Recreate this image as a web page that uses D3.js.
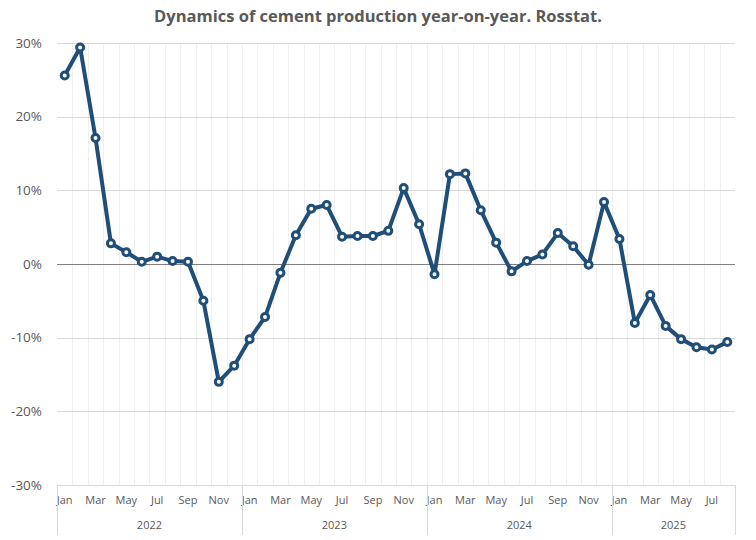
<!DOCTYPE html>
<html lang="en">
  <head>
    <meta charset="UTF-8" />
    <title>Cement production</title>
    <style>
      body {
        margin: 0;
        background: #fff;
      }
      #viz text {
        font-family: "Open Sans", sans-serif;
        fill: #595959;
      }
    </style>
  </head>
  <body>
    <div id="viz"></div>
    <script src="https://cdnjs.cloudflare.com/ajax/libs/d3/7.8.5/d3.min.js"></script>
    <script>
      const years = ["2022", "2023", "2024", "2025"];
      const monthNames = ["Jan", "Feb", "Mar", "Apr", "May", "Jun", "Jul", "Aug", "Sep", "Oct", "Nov", "Dec"];
      const values2022 = [25.6, 29.4, 17.1, 2.8, 1.6, 0.3, 1.0, 0.4, 0.3, -5.0, -16.0, -13.8];
      const values2023 = [-10.2, -7.2, -1.2, 3.9, 7.5, 8.0, 3.7, 3.8, 3.8, 4.5, 10.3, 5.4];
      const values2024 = [-1.4, 12.2, 12.3, 7.3, 2.9, -1.0, 0.4, 1.3, 4.2, 2.4, -0.1, 8.4];
      const values2025 = [3.4, -8.0, -4.2, -8.4, -10.2, -11.3, -11.6, -10.6];
      const yTicks = [-30, -20, -10, 0, 10, 20, 30];

      const series = [values2022, values2023, values2024, values2025];
      let data = [];
      series.forEach((vals, i) => {
        vals.forEach((v, m) => {
          data.push({ key: years[i] + "-" + m, year: years[i], month: monthNames[m], m: m, value: v });
        });
      });

      let width = 756,
          height = 540,
          margin = { top: 43, right: 21, bottom: 55, left: 57 },
          widthr = width - margin.left - margin.right,
          heightr = height - margin.top - margin.bottom;

      let svg = d3.select("#viz")
        .append("svg")
        .attr("width", width)
        .attr("height", height);

      svg.append("text")
        .attr("x", width / 2)
        .attr("y", 22)
        .attr("text-anchor", "middle")
        .style("font-size", "16.5px")
        .style("font-weight", 700)
        .text("Dynamics of cement production year-on-year. Rosstat.");

      let g = svg.append("g")
        .attr("transform", `translate(${margin.left}, ${margin.top})`);

      let x = d3.scaleBand()
        .domain(data.map(d => d.key))
        .range([0, widthr]);

      let y = d3.scaleLinear()
        .domain([-30, 30])
        .range([heightr, 0]);

      // vertical grid at band edges
      g.append("g")
        .selectAll("line")
        .data(data.slice(1))
        .join("line")
        .attr("x1", d => Math.round(x(d.key)) + 0.5)
        .attr("x2", d => Math.round(x(d.key)) + 0.5)
        .attr("y1", 0)
        .attr("y2", heightr)
        .attr("stroke", "#efefef");

      // horizontal grid
      g.append("g")
        .selectAll("line")
        .data(yTicks.filter(t => t !== 0))
        .join("line")
        .attr("x1", 0)
        .attr("x2", widthr)
        .attr("y1", d => Math.round(y(d)) + 0.5)
        .attr("y2", d => Math.round(y(d)) + 0.5)
        .attr("stroke", "#d9d9d9");

      // zero line
      g.append("line")
        .attr("x1", 0)
        .attr("x2", widthr)
        .attr("y1", Math.round(y(0)) + 0.5)
        .attr("y2", Math.round(y(0)) + 0.5)
        .attr("stroke", "#7f7f7f");

      // y axis labels
      let yAxis = g.append("g")
        .call(d3.axisLeft(y).tickValues(yTicks).tickFormat(d => d + "%").tickSize(0).tickPadding(15));
      yAxis.select(".domain").remove();
      yAxis.selectAll("text")
        .style("font-size", "13.5px")
        .attr("fill", "#595959");

      // month labels
      let xAxis = g.append("g")
        .attr("transform", `translate(0, ${heightr})`)
        .call(d3.axisBottom(x)
          .tickValues(data.filter(d => d.m % 2 === 0).map(d => d.key))
          .tickFormat(k => data.find(d => d.key === k).month)
          .tickSize(0)
          .tickPadding(11));
      xAxis.select(".domain").remove();
      xAxis.selectAll("text")
        .style("font-size", "11px")
        .attr("fill", "#595959");

      // year groups
      let yearGroups = years.map(yr => {
        let items = data.filter(d => d.year === yr);
        let x0 = x(items[0].key);
        let x1 = x(items[items.length - 1].key) + x.bandwidth();
        return { year: yr, x0: x0, x1: x1 };
      });

      let yg = g.append("g")
        .attr("transform", `translate(0, ${heightr})`);

      let seps = [yearGroups[0].x0].concat(yearGroups.map(d => d.x1));
      yg.selectAll("line")
        .data(seps)
        .join("line")
        .attr("x1", d => Math.round(d) + 0.5)
        .attr("x2", d => Math.round(d) + 0.5)
        .attr("y1", 0)
        .attr("y2", 50)
        .attr("stroke", "#d9d9d9");

      yg.selectAll("text")
        .data(yearGroups)
        .join("text")
        .attr("x", d => (d.x0 + d.x1) / 2)
        .attr("y", 44)
        .attr("text-anchor", "middle")
        .style("font-size", "11px")
        .text(d => d.year);

      // line
      let line = d3.line()
        .x(d => x(d.key) + x.bandwidth() / 2)
        .y(d => y(d.value));

      g.append("path")
        .datum(data)
        .attr("fill", "none")
        .attr("stroke", "#1f4e79")
        .attr("stroke-width", 4)
        .attr("stroke-linejoin", "round")
        .attr("d", line);

      g.append("g")
        .selectAll("circle")
        .data(data)
        .join("circle")
        .attr("cx", d => x(d.key) + x.bandwidth() / 2)
        .attr("cy", d => y(d.value))
        .attr("r", 3.5)
        .attr("fill", "#fff")
        .attr("stroke", "#1f4e79")
        .attr("stroke-width", 3);
    </script>
  </body>
</html>
